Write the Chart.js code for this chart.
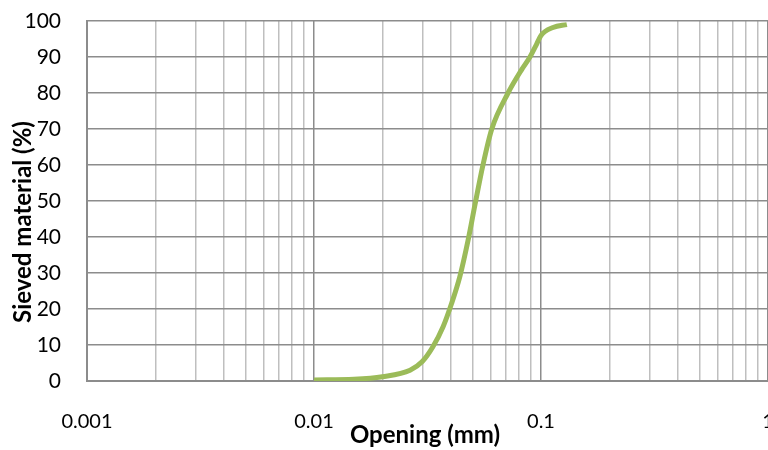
<!DOCTYPE html>
<html>
<head>
<meta charset="utf-8">
<script src="https://cdn.jsdelivr.net/npm/chart.js@4.4.0/dist/chart.umd.min.js"></script>
<style>
  html, body { margin: 0; padding: 0; background: #fff; overflow: hidden; }
  #box { width: 768px; height: 450px; position: relative; }
</style>
</head>
<body>
<div id="box"><canvas id="chart"></canvas></div>
<script>
// grading curve
const openingMm = [0.01, 0.015, 0.02, 0.0265, 0.03, 0.0334, 0.037, 0.0404, 0.0439, 0.0477, 0.0512, 0.0555, 0.0607, 0.0716, 0.0822, 0.0894, 0.0957, 0.1, 0.113, 0.13];
const sievedPct = [0.3, 0.5, 1.2, 3, 5.4, 9.5, 15, 21.6, 29, 39, 49, 60, 70, 80, 86.5, 90, 93.6, 96, 98.2, 99];
const xTickLabels = [0.001, 0.01, 0.1, 1];
const yMin = 0, yMax = 100, yStep = 10;

const xTitle = "Opening (mm)";
const yTitle = "Sieved material (%)";
const fontFamily = "Lato, 'Open Sans', sans-serif";

// decades + 2..9 subdivisions for the log grid
const xGridValues = [];
xTickLabels.forEach((d, i) => {
  xGridValues.push(d);
  if (i < xTickLabels.length - 1) {
    for (let k = 2; k <= 9; k++) xGridValues.push(+(d * k).toPrecision(3));
  }
});

const axisTitles = {
  id: "axisTitles",
  afterDraw(chart) {
    const c = chart.ctx;
    c.save();
    c.fillStyle = "#000";
    c.font = "bold 24px " + fontFamily;
    c.textAlign = "center";
    c.textBaseline = "alphabetic";
    c.fillText(xTitle, 425, 443);
    c.translate(31, 222);
    c.rotate(-Math.PI / 2);
    c.fillText(yTitle, 0, 0);
    c.restore();
  }
};

new Chart(document.getElementById("chart").getContext("2d"), {
  type: "scatter",
  data: {
    datasets: [{
      data: openingMm.map((x, i) => ({ x: x, y: sievedPct[i] })),
      showLine: true,
      borderColor: "#9BBB59",
      borderWidth: 5,
      pointRadius: 0,
      cubicInterpolationMode: "monotone",
      fill: false
    }]
  },
  options: {
    responsive: true,
    maintainAspectRatio: false,
    animation: false,
    layout: { padding: { top: 21, left: 0, right: 0, bottom: 0 } },
    plugins: { legend: { display: false }, tooltip: { enabled: false } },
    scales: {
      x: {
        type: "logarithmic",
        min: xTickLabels[0],
        max: xTickLabels[xTickLabels.length - 1],
        afterBuildTicks: (s) => { s.ticks = xGridValues.map(v => ({ value: v })); },
        afterFit: (s) => { s.height = 69; s.paddingLeft = 0; s.paddingRight = 0; },
        ticks: {
          autoSkip: false,
          maxRotation: 0,
          padding: 29,
          color: "#000",
          font: { family: fontFamily, size: 20 },
          callback: (v) => xTickLabels.includes(v) ? String(v) : ""
        },
        grid: {
          drawTicks: false,
          lineWidth: 1.5,
          color: (ctx) => ctx.tick && xTickLabels.includes(ctx.tick.value) ? "#8c8c8c" : "#bfbfbf"
        },
        border: { color: "#8c8c8c", width: 2 }
      },
      y: {
        min: yMin,
        max: yMax,
        afterFit: (s) => { s.width = 87; s.paddingTop = 0; s.paddingBottom = 0; },
        ticks: {
          stepSize: yStep,
          padding: 26,
          color: "#000",
          font: { family: fontFamily, size: 21 }
        },
        grid: { drawTicks: false, lineWidth: 1.5, color: "#8c8c8c" },
        border: { color: "#8c8c8c", width: 2 }
      }
    }
  },
  plugins: [axisTitles]
});
</script>
</body>
</html>
